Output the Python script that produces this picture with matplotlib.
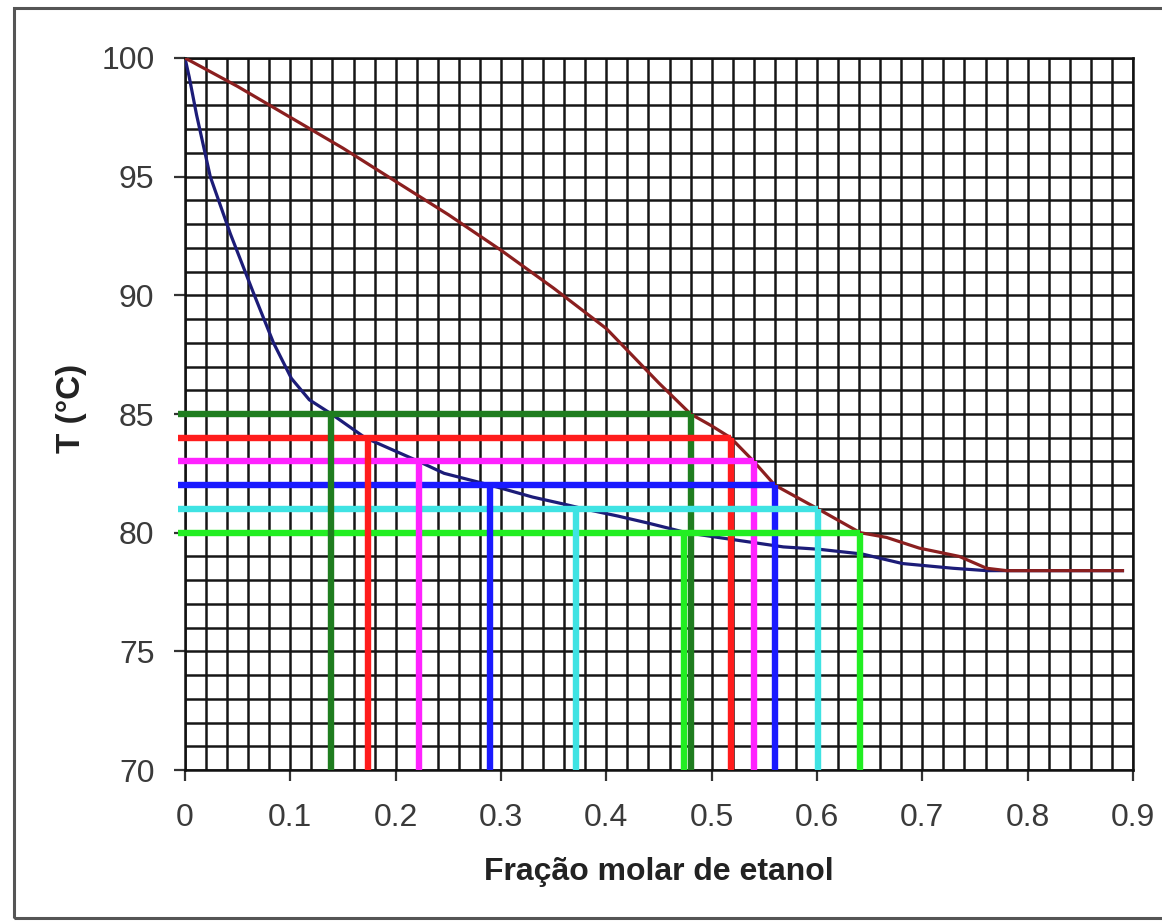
import numpy as np
import matplotlib
matplotlib.use("Agg")
import matplotlib.pyplot as plt
from matplotlib.patches import Rectangle

# Ethanol-water T-x-y diagram at 1 atm with tie lines
liquid_x = [0.0, 0.004, 0.011, 0.024, 0.043, 0.065, 0.084, 0.101, 0.118, 0.139,
            0.171, 0.222, 0.246, 0.290, 0.330, 0.360, 0.379, 0.411, 0.440, 0.476,
            0.506, 0.568, 0.602, 0.643, 0.681, 0.729, 0.761, 0.780, 0.890]
liquid_T = [100.0, 99.2, 97.6, 95.0, 92.6, 90.1, 88.0, 86.5, 85.6, 85.0,
            84.0, 83.0, 82.5, 82.0, 81.5, 81.2, 81.0, 80.7, 80.4, 80.0,
            79.8, 79.4, 79.3, 79.1, 78.7, 78.5, 78.4, 78.4, 78.4]

vapor_x = [0.0, 0.05, 0.10, 0.15, 0.20, 0.25, 0.30, 0.35, 0.40, 0.45, 0.48,
           0.50, 0.518, 0.540, 0.560, 0.601, 0.641, 0.666, 0.697, 0.735, 0.761,
           0.780, 0.890]
vapor_T = [100.0, 98.8, 97.5, 96.2, 94.8, 93.4, 91.9, 90.3, 88.6, 86.3, 85.0,
           84.5, 84.0, 83.0, 82.0, 81.0, 80.0, 79.8, 79.35, 79.0, 78.5,
           78.4, 78.4]

tie_T = [85, 84, 83, 82, 81, 80]
tie_x_liquid = [0.139, 0.174, 0.222, 0.290, 0.371, 0.474]
tie_x_vapor = [0.480, 0.518, 0.540, 0.560, 0.601, 0.641]
tie_colors = ["#1f7d1f", "#ff1c1c", "#ff22ff", "#1a1aff", "#3fe3e3", "#22ee22"]

x_ticks = [0.0, 0.1, 0.2, 0.3, 0.4, 0.5, 0.6, 0.7, 0.8, 0.9]
x_tick_labels = ["0", "0.1", "0.2", "0.3", "0.4", "0.5", "0.6", "0.7", "0.8", "0.9"]
y_ticks = [70, 75, 80, 85, 90, 95, 100]

W, H = 1162, 921
fig = plt.figure(figsize=(W / 100, H / 100), dpi=100)
fig.patch.set_facecolor("white")

# outer frame
fig.patches.append(Rectangle((14 / W, 3 / H), 1.2, 1 - 11 / H, transform=fig.transFigure,
                             fill=False, edgecolor="#555555", linewidth=2.2))

ax = fig.add_axes([185 / W, 1 - 770 / H, 948 / W, 712 / H])
ax.set_xlim(0, 0.9)
ax.set_ylim(70, 100)

ax.set_xticks(x_ticks)
ax.set_xticklabels(x_tick_labels)
ax.set_yticks(y_ticks)
ax.set_xticks(np.arange(0, 0.9001, 0.02), minor=True)
ax.set_yticks(np.arange(70, 100.01, 1), minor=True)
ax.grid(which="both", color="#161616", linewidth=1.8, zorder=0)
ax.set_axisbelow(True)
ax.tick_params(which="minor", length=0)
ax.tick_params(which="major", length=8, width=1.6, color="#333333", direction="out",
               labelcolor="#3a3a3a", labelsize=23)
ax.tick_params(axis="y", pad=14)
ax.tick_params(axis="x", pad=16)
for lab in ax.get_xticklabels() + ax.get_yticklabels():
    lab.set_fontfamily("Liberation Sans")
for sp in ax.spines.values():
    sp.set_color("#111111")
    sp.set_linewidth(1.8)

ax.plot(liquid_x, liquid_T, color="#1c1c78", linewidth=2.3, zorder=3)
ax.plot(vapor_x, vapor_T, color="#8b1f1f", linewidth=2.3, zorder=3)

for T, xl, xv, c in zip(tie_T, tie_x_liquid, tie_x_vapor, tie_colors):
    ax.plot([-0.007, xv], [T, T], color=c, linewidth=4.6, solid_capstyle="butt",
            clip_on=False, zorder=4)
    ax.plot([xv, xv], [T, 70], color=c, linewidth=4.6, solid_capstyle="butt", zorder=4)
for T, xl, xv, c in zip(tie_T, tie_x_liquid, tie_x_vapor, tie_colors):
    ax.plot([xl, xl], [T, 70], color=c, linewidth=4.6, solid_capstyle="butt", zorder=5)

ax.set_xlabel("Fração molar de etanol", fontsize=23, fontweight="bold",
              family="Liberation Sans", color="#222222")
ax.set_ylabel("T (°C)", fontsize=24, fontweight="bold", family="Liberation Sans",
              color="#222222")
ax.xaxis.set_label_coords(0.5, -0.122)
ax.yaxis.set_label_coords(-0.103, 0.508)

fig.savefig("out.png", dpi=100, facecolor="white")
